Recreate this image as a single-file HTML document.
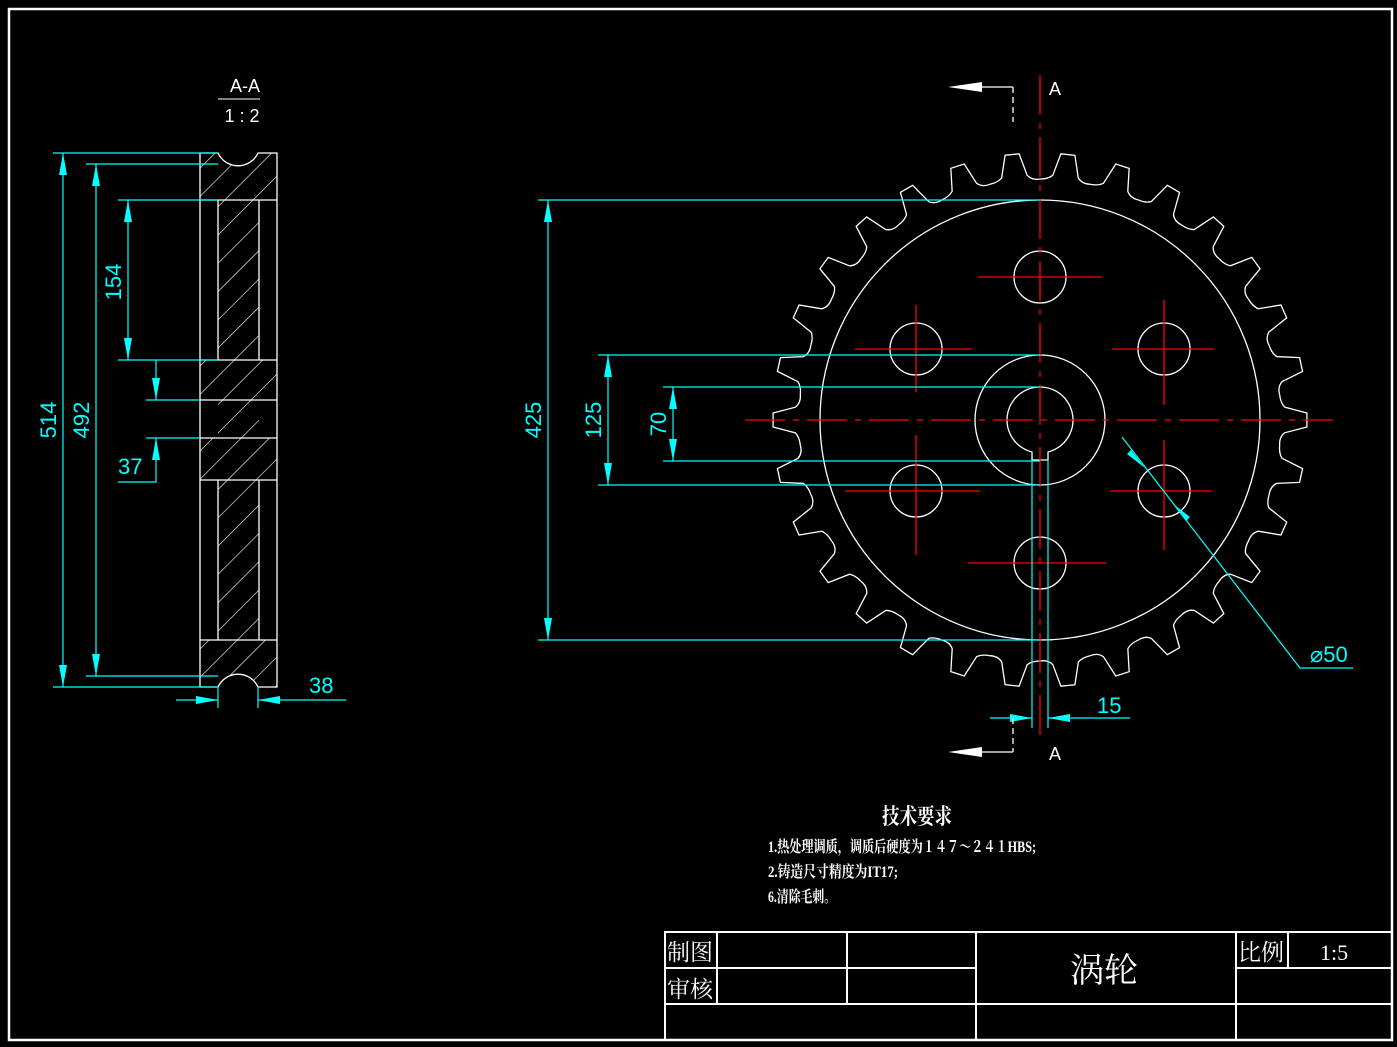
<!DOCTYPE html>
<html><head><meta charset="utf-8"><style>
html,body{margin:0;padding:0;background:#000;width:1397px;height:1047px;overflow:hidden}
svg{display:block}
.w{stroke:#fff;fill:none;stroke-width:1.3}
.c{stroke:#0ff;fill:none;stroke-width:1.2}
.r{stroke:#f00;fill:none;stroke-width:1.3}
.rd{stroke:#f00;fill:none;stroke-width:1.3;stroke-dasharray:40 8 6 8}
.ct{fill:#0ff;font-family:"Liberation Sans",sans-serif;font-size:22px}
.cn{font-family:"Liberation Serif","Noto Serif CJK SC",serif;fill:#fff}
</style></head><body>
<svg width="1397" height="1047" xmlns="http://www.w3.org/2000/svg">
<defs>
<pattern id="h" width="20" height="20" patternUnits="userSpaceOnUse" patternTransform="rotate(-45)">
<line x1="0" y1="0" x2="20" y2="0" stroke="#fff" stroke-width="1.2"/>
</pattern>
<clipPath id="mat">
<path d="M200 153 H218 A22 22 0 0 0 258 153 H277 V200 H200Z M218 200 H259 V640 H218Z M200 360 H277 V400 H200Z M200 438 H277 V480 H200Z M200 640 H277 V687 H258 A22 22 0 0 0 218 687 H200Z"/>
</clipPath>
<path id="t" class="w" d="M1040 179 Q1048 179 1052.8 175.3 L1060.9 153.8 L1074.9 155.3 L1078.3 178 Q1082 184 1090.1 184.3"/>
</defs>
<rect x="9" y="9" width="1383" height="1031" fill="none" stroke="#fff" stroke-width="2.5"/>
<!-- section view -->
<text x="245" y="92" fill="#fff" font-family="Liberation Sans,sans-serif" font-size="18" text-anchor="middle">A-A</text>
<line x1="218" y1="99" x2="260" y2="99" stroke="#fff"/>
<text x="242" y="122" fill="#fff" font-family="Liberation Sans,sans-serif" font-size="18" text-anchor="middle">1 : 2</text>
<rect x="195" y="150" width="90" height="540" fill="url(#h)" clip-path="url(#mat)"/>
<path class="w" d="M200 153 H218 A22 22 0 0 0 258 153 H277 V687 H258 A22 22 0 0 0 218 687 H200 Z"/>
<path class="w" d="M200 200 H218 V360 H200 M277 200 H259 V360 H277 M200 360 H277 M200 400 H277 M200 438 H277 M200 480 H277 M200 480 H218 V640 H200 M277 480 H259 V640 H277 M200 640 H277 M200 200 H277"/>
<!-- left dims -->
<g class="c">
<path d="M53 153 H218 M53 687 H218 M86 164 H218 M86 676 H218 M118 200 H218 M118 360 H218 M146 400 H200 M146 438 H200"/>
<path d="M63 153 V687 M96 164 V676 M128 200 V360 M156 360 V400 M156 438 V482 H118"/>
<path d="M218 687 V708 M258 687 V708 M176 700 H218 M258 700 H346"/>
</g>
<g fill="#0ff">
<path d="M63 153 l-4 22 h8z M63 687 l-4 -22 h8z M96 164 l-4 22 h8z M96 676 l-4 -22 h8z M128 200 l-4 22 h8z M128 360 l-4 -22 h8z M156 400 l-4 -22 h8z M156 438 l-4 22 h8z M218 700 l-22 -4 v8z M258 700 l22 -4 v8z"/>
</g>
<text class="ct" transform="translate(56 420) rotate(-90)" text-anchor="middle">514</text>
<text class="ct" transform="translate(89 420) rotate(-90)" text-anchor="middle">492</text>
<text class="ct" transform="translate(121 282) rotate(-90)" text-anchor="middle">154</text>
<text class="ct" x="118" y="474">37</text>
<text class="ct" x="309" y="693">38</text>
<!-- gear teeth -->
<use href="#t"/>
<use href="#t" transform="rotate(12 1040 420)"/><use href="#t" transform="rotate(24 1040 420)"/><use href="#t" transform="rotate(36 1040 420)"/>
<use href="#t" transform="rotate(48 1040 420)"/><use href="#t" transform="rotate(60 1040 420)"/><use href="#t" transform="rotate(72 1040 420)"/>
<use href="#t" transform="rotate(84 1040 420)"/><use href="#t" transform="rotate(96 1040 420)"/><use href="#t" transform="rotate(108 1040 420)"/>
<use href="#t" transform="rotate(120 1040 420)"/><use href="#t" transform="rotate(132 1040 420)"/><use href="#t" transform="rotate(144 1040 420)"/>
<use href="#t" transform="rotate(156 1040 420)"/><use href="#t" transform="rotate(168 1040 420)"/><use href="#t" transform="rotate(180 1040 420)"/>
<use href="#t" transform="rotate(192 1040 420)"/><use href="#t" transform="rotate(204 1040 420)"/><use href="#t" transform="rotate(216 1040 420)"/>
<use href="#t" transform="rotate(228 1040 420)"/><use href="#t" transform="rotate(240 1040 420)"/><use href="#t" transform="rotate(252 1040 420)"/>
<use href="#t" transform="rotate(264 1040 420)"/><use href="#t" transform="rotate(276 1040 420)"/><use href="#t" transform="rotate(288 1040 420)"/>
<use href="#t" transform="rotate(300 1040 420)"/><use href="#t" transform="rotate(312 1040 420)"/><use href="#t" transform="rotate(324 1040 420)"/>
<use href="#t" transform="rotate(336 1040 420)"/><use href="#t" transform="rotate(348 1040 420)"/>
<circle class="w" cx="1040" cy="420" r="220"/>
<circle class="w" cx="1040" cy="420" r="65"/>
<path class="w" d="M1032 452 A33 33 0 1 1 1048 452 V460 H1032 Z"/>
<g class="w">
<circle cx="1040" cy="277" r="26"/><circle cx="916" cy="349" r="26"/><circle cx="1164" cy="349" r="26"/>
<circle cx="916" cy="491" r="26"/><circle cx="1164" cy="491" r="26"/><circle cx="1040" cy="563" r="26"/>
</g>
<g class="r">
<path d="M978 277 H1102 M855 349 H972 M1112 349 H1214 M845 491 H980 M1110 491 H1212 M968 563 H1106"/>
<path d="M916 305 V392 M1164 300 V405 M916 435 V555 M1164 440 V550"/>
</g>
<line class="rd" x1="745" y1="420" x2="1333" y2="420"/>
<line class="rd" x1="1040" y1="75" x2="1040" y2="735"/>
<!-- gear dims -->
<g class="c">
<path d="M538 200 H1040 M538 640 H1040 M598 355 H1040 M598 485 H1040 M663 387 H1040 M663 461 H1040"/>
<path d="M548 200 V640 M608 355 V485 M673 387 V461"/>
<path d="M1032 460 V728 M1048 460 V728 M990 718 H1032 M1048 718 H1130"/>
<path d="M1122 437 L1300 668 H1353"/>
</g>
<g fill="#0ff">
<path d="M548 200 l-4 22 h8z M548 640 l-4 -22 h8z M608 355 l-4 22 h8z M608 485 l-4 -22 h8z M673 387 l-4 22 h8z M673 461 l-4 -22 h8z M1032 718 l-22 -4 v8z M1048 718 l22 -4 v8z"/>
<path d="M1145 468 l-14 -18 l-4 4z" /><path d="M1172 503 l14 18 l4 -4z"/>
</g>
<text class="ct" transform="translate(541 420) rotate(-90)" text-anchor="middle">425</text>
<text class="ct" transform="translate(601 420) rotate(-90)" text-anchor="middle">125</text>
<text class="ct" transform="translate(666 424) rotate(-90)" text-anchor="middle">70</text>
<text class="ct" x="1097" y="713">15</text>
<text class="ct" x="1310" y="662">⌀50</text>
<!-- section markers -->
<path d="M948 87 l34 -5 v10z M948 752 l34 -5 v10z" fill="#fff"/>
<path class="w" d="M975 87 H1013 M975 752 H1013"/>
<path class="w" d="M1013 87 V122 M1013 718 V752" stroke-dasharray="6 4"/>
<text x="1049" y="95" fill="#fff" font-family="Liberation Sans,sans-serif" font-size="18">A</text>
<text x="1049" y="760" fill="#fff" font-family="Liberation Sans,sans-serif" font-size="18">A</text>
<!-- tech notes -->
<text class="cn" x="882" y="824" font-size="22" font-weight="bold" textLength="70" lengthAdjust="spacingAndGlyphs">技术要求</text>
<text class="cn" x="768" y="852" font-size="16" font-weight="bold" textLength="268" lengthAdjust="spacingAndGlyphs">1.热处理调质，调质后硬度为１４７～２４１HBS;</text>
<text class="cn" x="768" y="877" font-size="16" font-weight="bold" textLength="130" lengthAdjust="spacingAndGlyphs">2.铸造尺寸精度为IT17;</text>
<text class="cn" x="768" y="902" font-size="16" font-weight="bold" textLength="68" lengthAdjust="spacingAndGlyphs">6.清除毛刺。</text>
<!-- title block -->
<g stroke="#fff" stroke-width="2" fill="none">
<rect x="665" y="932" width="727" height="108"/>
<path d="M665 968 H976 M665 1004 H1392 M1236 968 H1392 M717 932 V1004 M847 932 V1004 M976 932 V1040 M1236 932 V1040 M1288 932 V968"/>
</g>
<g class="cn" font-family="Liberation Sans,'Noto Sans CJK SC',sans-serif" fill="#fff">
<text x="667" y="960" font-size="23">制图</text>
<text x="667" y="997" font-size="23">审核</text>
<text x="1070" y="982" font-size="34">涡轮</text>
<text x="1238" y="960" font-size="23">比例</text>
<text x="1320" y="960" font-size="22" font-family="Liberation Serif,serif">1:5</text>
</g>
</svg>
</body></html>
